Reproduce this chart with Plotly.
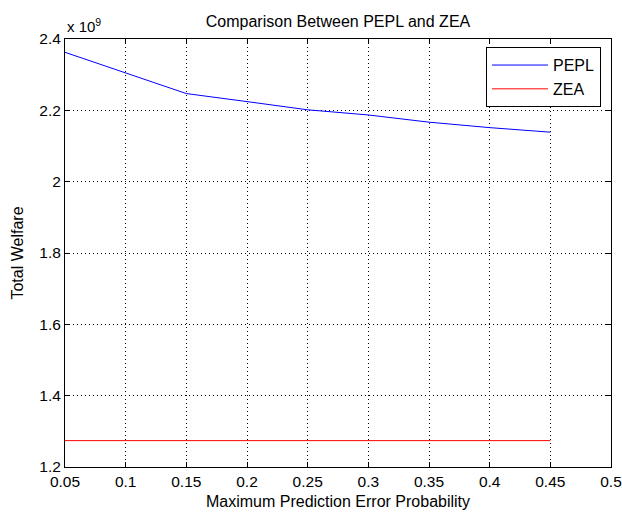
import plotly.graph_objects as go

# Data (Total Welfare in units of 1e9)
x_prob = [0.05, 0.10, 0.15, 0.20, 0.25, 0.30, 0.35, 0.40, 0.45]
pepl = [2.3627, 2.3045, 2.2470, 2.2245, 2.2015, 2.1870, 2.1668, 2.1515, 2.1388]
zea = [1.2740, 1.2740, 1.2740, 1.2740, 1.2740, 1.2740, 1.2740, 1.2740, 1.2740]

x_ticks = [0.05, 0.1, 0.15, 0.2, 0.25, 0.3, 0.35, 0.4, 0.45, 0.5]
x_tick_labels = ["0.05", "0.1", "0.15", "0.2", "0.25", "0.3", "0.35", "0.4", "0.45", "0.5"]
y_ticks = [1.2, 1.4, 1.6, 1.8, 2.0, 2.2, 2.4]
y_tick_labels = ["1.2", "1.4", "1.6", "1.8", "2", "2.2", "2.4"]

FONT = "Liberation Sans, Arial, sans-serif"

fig = go.Figure()
fig.add_trace(go.Scatter(x=x_prob, y=pepl, mode="lines", name="PEPL", legendgroup="g1",
                         line=dict(color="#0000FF", width=1)))
fig.add_trace(go.Scatter(x=x_prob, y=zea, mode="lines", name="ZEA", legendgroup="g2",
                         line=dict(color="#FF0000", width=1)))

axis_common = dict(
    showline=True, linecolor="#000000", linewidth=1, mirror="ticks",
    ticks="inside", ticklen=5, tickcolor="#000000", tickwidth=1,
    showgrid=True, gridcolor="#000000", griddash="1px,3px", gridwidth=1,
    zeroline=False, tickfont=dict(family=FONT, size=15.5, color="#000000"),
    ticklabeloverflow="allow", automargin=False,
)

fig.update_layout(
    width=622, height=512,
    margin=dict(l=65, r=11, t=39, b=45),
    paper_bgcolor="#FFFFFF", plot_bgcolor="#FFFFFF",
    font=dict(family=FONT, size=16, color="#000000"),
    title=dict(text="Comparison Between PEPL and ZEA", x=(65 + 273) / 622, xanchor="center",
               y=1 - 21 / 512, yanchor="middle", font=dict(family=FONT, size=16, color="#000000")),
    xaxis=dict(range=[0.05, 0.5], tickvals=x_ticks, ticktext=x_tick_labels,
               title=dict(text="Maximum Prediction Error Probability", standoff=7,
                          font=dict(family=FONT, size=16)),
               **axis_common),
    yaxis=dict(range=[1.2, 2.4], tickvals=y_ticks, ticktext=y_tick_labels,
               title=dict(text="Total Welfare", standoff=11, font=dict(family=FONT, size=16)),
               **axis_common),
    legend=dict(x=0.771, y=0.981, xanchor="left", yanchor="top",
                bgcolor="#FFFFFF", bordercolor="#000000", borderwidth=1,
                itemwidth=56, tracegroupgap=0,
                font=dict(family=FONT, size=16, color="#000000")),
    showlegend=True,
)

fig.add_annotation(x=0, y=1, xref="paper", yref="paper", xanchor="left", yanchor="bottom",
                   yshift=2, text="x 10<sup>9</sup>", showarrow=False,
                   font=dict(family=FONT, size=15, color="#000000"))

fig.write_html("out.html")
